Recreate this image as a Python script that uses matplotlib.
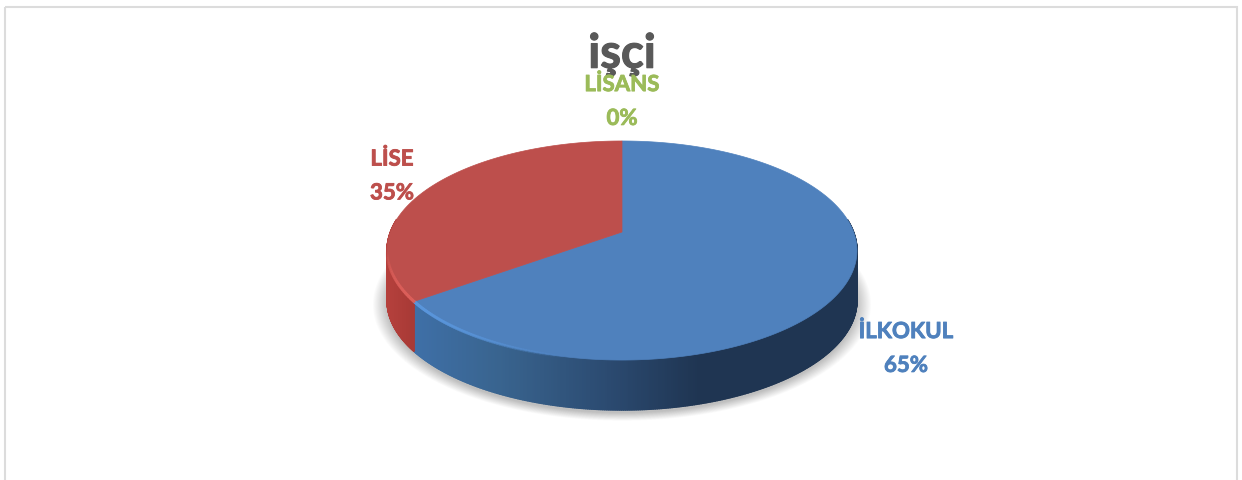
import numpy as np
import matplotlib
matplotlib.use("Agg")
import matplotlib.pyplot as plt
import matplotlib.patheffects as pe
from matplotlib.collections import PolyCollection
from matplotlib.colors import LinearSegmentedColormap
from matplotlib.patches import Polygon, Rectangle

# data
categories = ["İLKOKUL", "LİSE", "LİSANS"]
values = [65, 35, 0]
title = "işçi"

top_colors = ["#4f81bd", "#bd4f4c", "#9bbb59"]
edge_colors = ["#5a96dc", "#dc5f5a", "#9bbb59"]
label_pos = [(906, 348.5), (392, 176), (622, 101.5)]

# pie geometry in pixels
CX, APEX_Y = 622, 232
A, B, K = 231.6, 106.4, 0.169
DEPTH = 50

wall_blue = LinearSegmentedColormap.from_list("wall_blue", [
    (0.0, "#3f70a8"), (0.2, "#39648f"), (0.45, "#2b4a70"),
    (0.65, "#1f3552"), (1.0, "#1f3552")])
wall_red = LinearSegmentedColormap.from_list("wall_red", ["#b5403c", "#a83a36"])


def rim(theta, drop=0.0, grow=1.0):
    # theta measured clockwise from the top of the pie
    u, v = np.sin(theta), np.cos(theta)
    w = 1 + K * v
    x = CX + grow * A * u / w
    y = APEX_Y - grow * B * v / w + drop
    return x, y


fig = plt.figure(figsize=(12.42, 4.8), dpi=100)
ax = fig.add_axes([0, 0, 1, 1])
ax.set_xlim(0, 1242)
ax.set_ylim(480, 0)
ax.axis("off")

# chart frame
ax.add_patch(Rectangle((5, 6.5), 1232, 480, fill=False, ec="#dcdcdc", lw=1.5))

# soft shadow below the pie
full = np.linspace(0, 2 * np.pi, 240)
for i in range(16):
    sx, sy = rim(full, drop=DEPTH + 3, grow=1.0 + i * 0.004)
    ax.add_patch(Polygon(np.column_stack([sx, sy]), fc="#000000", ec="none", alpha=0.014))

# slice angles from the values
edges = np.concatenate([[0], np.cumsum(values)]) / np.sum(values) * 2 * np.pi

# side wall, drawn as thin strips so it can carry a gradient
for i, (start, stop) in enumerate(zip(edges[:-1], edges[1:])):
    if stop <= start:
        continue
    th = np.linspace(start, stop, 600)
    x, y = rim(th)
    front = np.cos(th) < 0.12
    polys, cols = [], []
    cmap = wall_blue if i == 0 else wall_red
    for j in range(len(th) - 1):
        if not front[j]:
            continue
        polys.append([(x[j], y[j]), (x[j + 1], y[j + 1]),
                      (x[j + 1], y[j + 1] + DEPTH), (x[j], y[j] + DEPTH)])
        cols.append(cmap((x[j] - 410) / 445 if i == 0 else (x[j] - 387) / 25))
    ax.add_collection(PolyCollection(polys, facecolors=cols, edgecolors=cols, linewidths=1.0))

# top faces
for i, (start, stop) in enumerate(zip(edges[:-1], edges[1:])):
    if stop <= start:
        continue
    x, y = rim(np.linspace(start, stop, 300))
    pts = np.vstack([[CX, APEX_Y], np.column_stack([x, y])])
    ax.add_patch(Polygon(pts, fc=top_colors[i], ec=top_colors[i], lw=0.5))

# light bevel along the front edge
th_blue = np.linspace(edges[1] - 0.75, edges[1], 70)
for t0, t1 in zip(th_blue[:-1], th_blue[1:]):
    x, y = rim(np.array([t0, t1]))
    fade = (t0 - th_blue[0]) / (th_blue[-1] - th_blue[0])
    ax.plot(x, y, color=edge_colors[0], lw=2.2, alpha=fade, solid_capstyle="round")
th_red = np.linspace(edges[1], edges[1] + 0.45, 30)
for t0, t1 in zip(th_red[:-1], th_red[1:]):
    x, y = rim(np.array([t0, t1]))
    fade = 1 - (t0 - th_red[0]) / (th_red[-1] - th_red[0])
    ax.plot(x, y, color=edge_colors[1], lw=2.2, alpha=fade, solid_capstyle="round")

# text, with a thin stroke because Calibri bold sits heavier than Lato bold
t = ax.text(622, 54, title, ha="center", va="center", fontsize=34, fontweight="bold",
            family="Lato", color="#595959")
t.set_path_effects([pe.withStroke(linewidth=0.8, foreground="#595959")])
for name, val, col, (lx, ly) in zip(categories, values, top_colors, label_pos):
    t = ax.text(lx, ly, f"{name}\n\n{val}%", ha="center", va="center", fontsize=16,
                fontweight="bold", family="Lato", color=col, linespacing=0.76)
    t.set_path_effects([pe.withStroke(linewidth=0.6, foreground=col)])

fig.savefig("out.png", dpi=100)
